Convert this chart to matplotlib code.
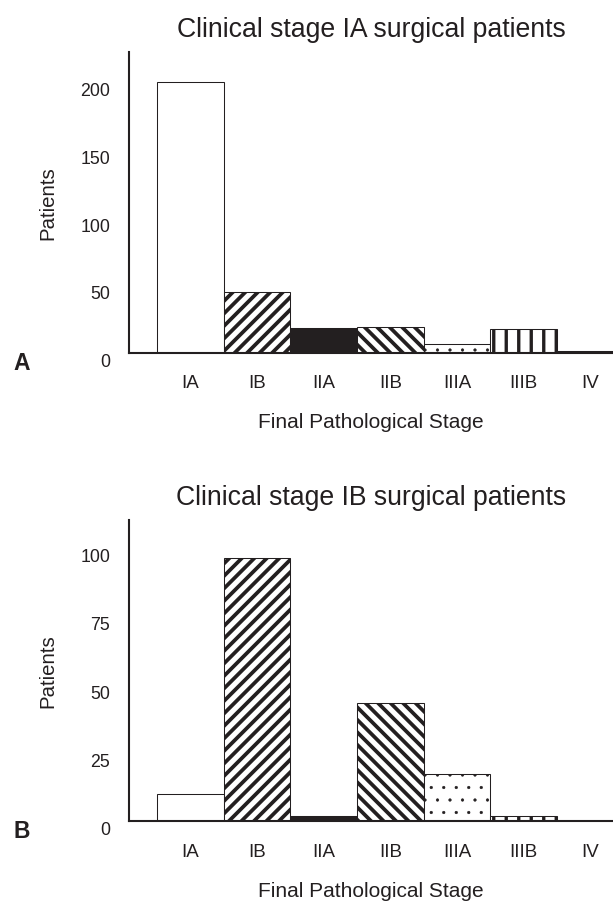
import matplotlib
matplotlib.use("Agg")
import matplotlib.pyplot as plt
from matplotlib.transforms import ScaledTranslation

# ---- data ----
stages = ['IA', 'IB', 'IIA', 'IIB', 'IIIA', 'IIIB', 'IV']
clinical_ia_patients = [200, 45, 18, 19, 6, 17, 1]
clinical_ib_patients = [10, 96, 2, 43, 17, 2, 0]
ia_yticks = [0, 50, 100, 150, 200]
ib_yticks = [0, 25, 50, 75, 100]
titles = ['Clinical stage IA surgical patients', 'Clinical stage IB surgical patients']
panel_letters = ['A', 'B']

# ---- style ----
DPI = 75
INK = '#231f20'
plt.rcParams['font.family'] = ['Liberation Sans', 'DejaVu Sans']
plt.rcParams['hatch.color'] = INK

hatches = [None, '//', None, '\\\\', '.', '|', None]
hatch_lw = [3.6, 3.6, 3.6, 3.6, 0.6, 3.2, 3.0]
faces = ['white', 'white', INK, 'white', 'white', 'white', 'white']

fig = plt.figure(figsize=(613 / DPI, 903 / DPI), dpi=DPI)

W, H = 613.0, 903.0
axes_px = [(129, 53, 353.5), (129, 521, 822)]  # left, top, bottom (pixels)
ylims = [222, 110]
letter_y = [364, 832]

for i, (vals, yt) in enumerate([(clinical_ia_patients, ia_yticks),
                                 (clinical_ib_patients, ib_yticks)]):
    left, top, bot = axes_px[i]
    ax = fig.add_axes([left / W, 1 - bot / H, (W - left) / W, (bot - top) / H])
    x = list(range(len(stages)))
    for xi, v, fc, h, hlw in zip(x, vals, faces, hatches, hatch_lw):
        plt.rcParams['hatch.linewidth'] = hlw
        b = ax.bar(xi, v, width=1.0, color=fc, edgecolor=INK, linewidth=1.0,
                   hatch=h, zorder=2)[0]
        if hasattr(b, 'set_hatch_linewidth'):
            b.set_hatch_linewidth(hlw)
    ax.set_xlim(-0.92, 6.34)
    ax.set_ylim(0, ylims[i])
    ax.set_xticks(x)
    ax.set_xticklabels(stages, fontsize=18)
    ax.set_yticks(yt)
    ax.set_yticklabels([str(v) for v in yt], fontsize=17)
    ax.tick_params(axis='both', length=0, colors=INK)
    ax.tick_params(axis='x', pad=21)
    ax.tick_params(axis='y', pad=18)
    off = ScaledTranslation(0, -7 / DPI, fig.dpi_scale_trans)
    for lab in ax.get_yticklabels():
        lab.set_transform(lab.get_transform() + off)
    for s in ['top', 'right']:
        ax.spines[s].set_visible(False)
    for s in ['left', 'bottom']:
        ax.spines[s].set_linewidth(2.0)
        ax.spines[s].set_color(INK)
        ax.spines[s].set_zorder(3)
    ax.set_ylabel('Patients', fontsize=19.5, color=INK, labelpad=22)
    ax.set_xlabel('Final Pathological Stage', fontsize=20, color=INK, labelpad=20)
    ax.set_title(titles[i], fontsize=25.5, color=INK, pad=15)
    fig.text(21.5 / W, 1 - letter_y[i] / H, panel_letters[i], fontsize=22,
             fontweight='bold', ha='center', va='center', color=INK)

fig.savefig('out.png', dpi=DPI)
